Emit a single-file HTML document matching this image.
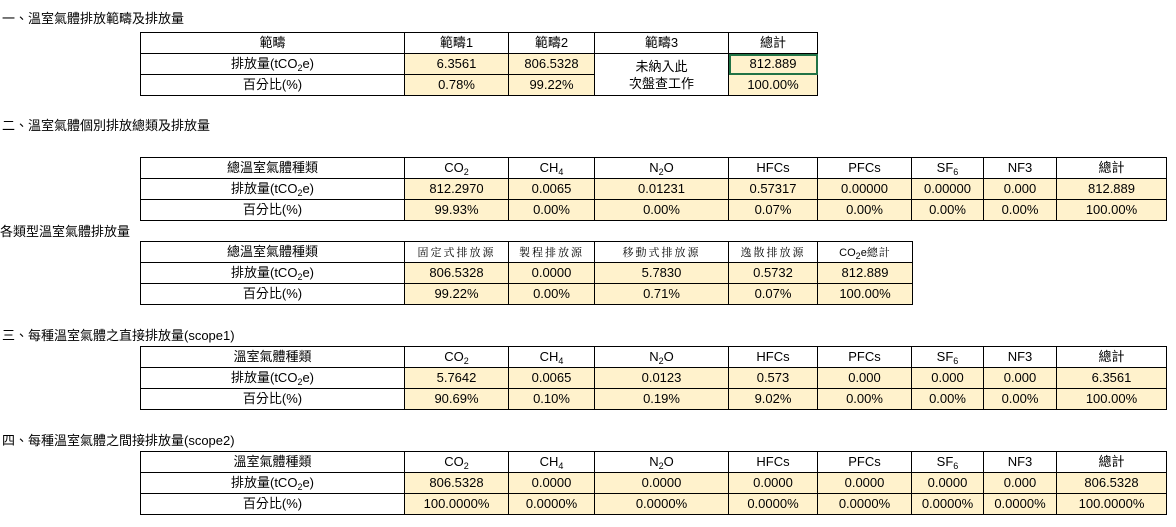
<!DOCTYPE html>
<html><head><meta charset="utf-8">
<style>
body{margin:0;width:1176px;height:527px;background:#fff;position:relative;font-family:"Liberation Sans","Noto Sans CJK TC",sans-serif;font-size:13px;color:#000;overflow:hidden}
.h{position:absolute;left:2px;font-size:13px;line-height:16px;white-space:nowrap}
table{position:absolute;border-collapse:collapse;table-layout:fixed}
td{border:1px solid #000;height:20px;padding:0;text-align:center;line-height:18px;white-space:nowrap;overflow:hidden}
.y{background:#FFF2CC}
sub{font-size:9px;vertical-align:-3px;line-height:0}
.s{font-family:"Noto Serif CJK SC","Liberation Serif",serif;font-size:11px;letter-spacing:2px}
</style></head><body>
<div class="h" style="top:11px">一、溫室氣體排放範疇及排放量</div>
<table style="left:140px;top:32px;width:678px">
<colgroup><col style="width:264px"><col style="width:104px"><col style="width:86px"><col style="width:134px"><col style="width:89px"></colgroup>
<tr><td>範疇</td><td>範疇1</td><td>範疇2</td><td>範疇3</td><td>總計</td></tr>
<tr><td>排放量(tCO<sub>2</sub>e)</td><td class="y">6.3561</td><td class="y">806.5328</td><td rowspan="2" style="line-height:17px">未納入此<br>次盤查工作</td><td class="y" style="outline:2px solid #217346;outline-offset:-2px">812.889</td></tr>
<tr><td>百分比(%)</td><td class="y">0.78%</td><td class="y">99.22%</td><td class="y">100.00%</td></tr>
</table>

<div class="h" style="top:118px">二、溫室氣體個別排放總類及排放量</div>
<table style="left:140px;top:157px;width:1026px">
<colgroup><col style="width:264px"><col style="width:104px"><col style="width:86px"><col style="width:134px"><col style="width:89px"><col style="width:94px"><col style="width:72px"><col style="width:73px"><col style="width:110px"></colgroup>
<tr><td>總溫室氣體種類</td><td>CO<sub>2</sub></td><td>CH<sub>4</sub></td><td>N<sub>2</sub>O</td><td>HFCs</td><td>PFCs</td><td>SF<sub>6</sub></td><td>NF3</td><td>總計</td></tr>
<tr><td>排放量(tCO<sub>2</sub>e)</td><td class="y">812.2970</td><td class="y">0.0065</td><td class="y">0.01231</td><td class="y">0.57317</td><td class="y">0.00000</td><td class="y">0.00000</td><td class="y">0.000</td><td class="y">812.889</td></tr>
<tr><td>百分比(%)</td><td class="y">99.93%</td><td class="y">0.00%</td><td class="y">0.00%</td><td class="y">0.07%</td><td class="y">0.00%</td><td class="y">0.00%</td><td class="y">0.00%</td><td class="y">100.00%</td></tr>
</table>

<div class="h" style="top:224px;left:0">各類型溫室氣體排放量</div>
<table style="left:140px;top:241px;width:772px">
<colgroup><col style="width:264px"><col style="width:104px"><col style="width:86px"><col style="width:134px"><col style="width:89px"><col style="width:95px"></colgroup>
<tr><td>總溫室氣體種類</td><td class="s">固定式排放源</td><td class="s">製程排放源</td><td class="s">移動式排放源</td><td class="s">逸散排放源</td><td style="font-size:11px">CO<sub>2</sub>e<span class="s" style="letter-spacing:1px">總計</span></td></tr>
<tr><td>排放量(tCO<sub>2</sub>e)</td><td class="y">806.5328</td><td class="y">0.0000</td><td class="y">5.7830</td><td class="y">0.5732</td><td class="y">812.889</td></tr>
<tr><td>百分比(%)</td><td class="y">99.22%</td><td class="y">0.00%</td><td class="y">0.71%</td><td class="y">0.07%</td><td class="y">100.00%</td></tr>
</table>

<div class="h" style="top:328px">三、每種溫室氣體之直接排放量(scope1)</div>
<table style="left:140px;top:346px;width:1026px">
<colgroup><col style="width:264px"><col style="width:104px"><col style="width:86px"><col style="width:134px"><col style="width:89px"><col style="width:94px"><col style="width:72px"><col style="width:73px"><col style="width:110px"></colgroup>
<tr><td>溫室氣體種類</td><td>CO<sub>2</sub></td><td>CH<sub>4</sub></td><td>N<sub>2</sub>O</td><td>HFCs</td><td>PFCs</td><td>SF<sub>6</sub></td><td>NF3</td><td>總計</td></tr>
<tr><td>排放量(tCO<sub>2</sub>e)</td><td class="y">5.7642</td><td class="y">0.0065</td><td class="y">0.0123</td><td class="y">0.573</td><td class="y">0.000</td><td class="y">0.000</td><td class="y">0.000</td><td class="y">6.3561</td></tr>
<tr><td>百分比(%)</td><td class="y">90.69%</td><td class="y">0.10%</td><td class="y">0.19%</td><td class="y">9.02%</td><td class="y">0.00%</td><td class="y">0.00%</td><td class="y">0.00%</td><td class="y">100.00%</td></tr>
</table>

<div class="h" style="top:433px">四、每種溫室氣體之間接排放量(scope2)</div>
<table style="left:140px;top:451px;width:1026px">
<colgroup><col style="width:264px"><col style="width:104px"><col style="width:86px"><col style="width:134px"><col style="width:89px"><col style="width:94px"><col style="width:72px"><col style="width:73px"><col style="width:110px"></colgroup>
<tr><td>溫室氣體種類</td><td>CO<sub>2</sub></td><td>CH<sub>4</sub></td><td>N<sub>2</sub>O</td><td>HFCs</td><td>PFCs</td><td>SF<sub>6</sub></td><td>NF3</td><td>總計</td></tr>
<tr><td>排放量(tCO<sub>2</sub>e)</td><td class="y">806.5328</td><td class="y">0.0000</td><td class="y">0.0000</td><td class="y">0.0000</td><td class="y">0.0000</td><td class="y">0.0000</td><td class="y">0.000</td><td class="y">806.5328</td></tr>
<tr><td>百分比(%)</td><td class="y">100.0000%</td><td class="y">0.0000%</td><td class="y">0.0000%</td><td class="y">0.0000%</td><td class="y">0.0000%</td><td class="y">0.0000%</td><td class="y">0.0000%</td><td class="y">100.0000%</td></tr>
</table>
</body></html>
